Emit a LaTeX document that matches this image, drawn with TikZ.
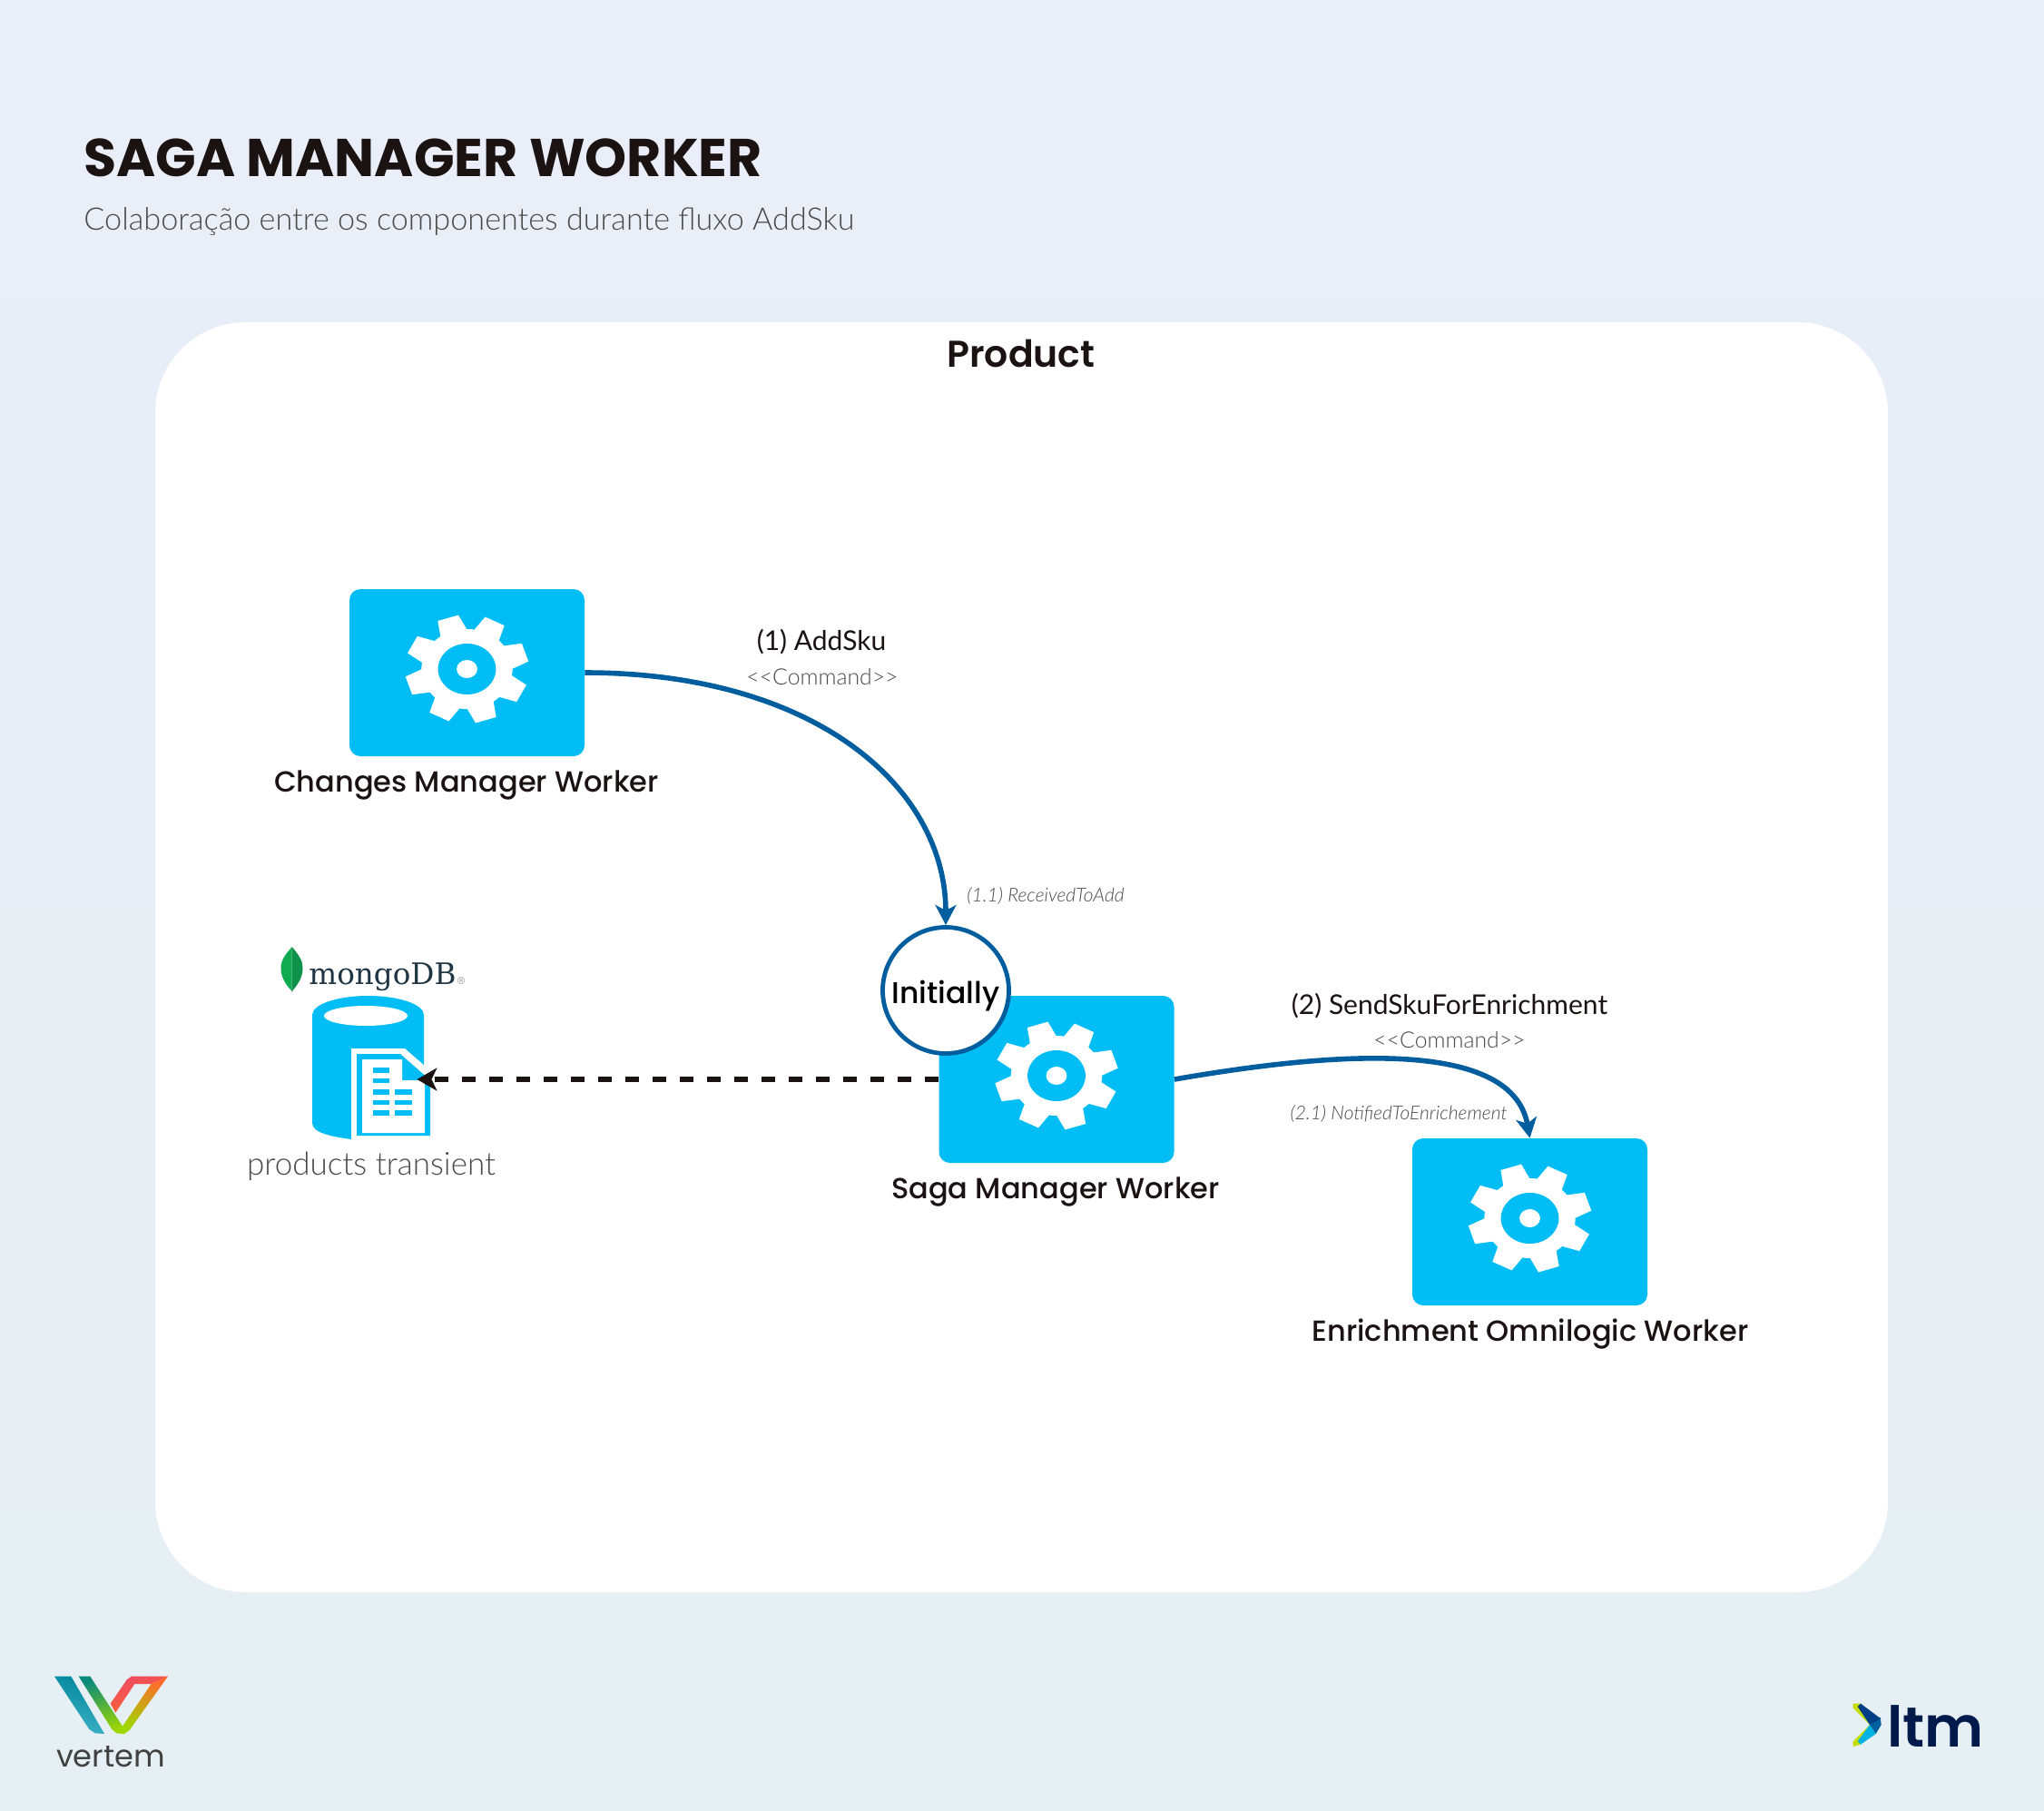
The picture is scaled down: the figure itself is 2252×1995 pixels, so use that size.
\documentclass[tikz,border=0pt]{standalone}
\usepackage{fontspec}
\usetikzlibrary{arrows.meta,shapes.geometric}
\setmainfont{Lato}
\newfontfamily\lightf{Lato Light}
\newfontfamily\lightit{Lato Light Italic}
\newfontfamily\regf{Poppins}
\newfontfamily\medf{Poppins Medium}
\newfontfamily\semif{Poppins SemiBold}
\newfontfamily\boldf{Poppins Bold}
\newfontfamily\slab{DejaVu Serif}
\newcommand\fs[1]{\fontsize{#1}{#1}\selectfont}
\definecolor{bgtop}{HTML}{E9EEF8}
\definecolor{bgbot}{HTML}{E6EFF3}
\definecolor{cyanbox}{HTML}{00BEF5}
\definecolor{flowblue}{HTML}{005E9E}
\definecolor{inkdark}{HTML}{1A1311}
\definecolor{greytxt}{HTML}{4A4A4A}
\definecolor{mongoink}{HTML}{1F3544}
\tikzset{
  x=0.5pt,y=-0.5pt,
  worker/.style={rectangle,rounded corners=6pt,fill=cyanbox,minimum width=129.5pt,minimum height=92pt,inner sep=0pt},
  wlabel/.style={font=\medf\fs{16},text=inkdark,inner sep=0pt},
  msg/.style={font=\fs{15},text=inkdark,inner sep=0pt},
  stereo/.style={font=\lightf\fs{12.4},text=greytxt,inner sep=0pt},
  note/.style={font=\lightit\fs{10.5},text=greytxt,inner sep=0pt},
  flow/.style={flowblue,line width=2.8pt,-{Stealth[length=11pt,width=11.5pt,inset=3pt]}},
  writeflow/.style={inkdark,line width=2.9pt,dash pattern=on 7.5pt off 7.5pt,-{Stealth[length=11pt,width=12.5pt,inset=3pt]}},
  cog/.pic={
    \begin{scope}[xscale=1.14]
    \foreach \a in {27,72,...,342}{
      \fill[white] ({\a-19}:42) -- ({\a-10}:60) -- ({\a+10}:60) -- ({\a+19}:42) -- cycle;
    }
    \fill[white] (0,0) circle[radius=44];
    \fill[cyanbox] (0,0) circle[radius=28];
    \fill[white] (0,0) circle[radius=10];
    \end{scope}
  },
}
\begin{document}
\begin{tikzpicture}
\useasboundingbox (0,0) rectangle (2252,1995);
\shade[top color=bgtop,bottom color=bgbot] (0,0) rectangle (2252,1995);
\fill[white,rounded corners=50pt] (171,355) rectangle (2080,1754);

\node[anchor=west,font=\boldf\fs{29.3},text=inkdark,inner sep=0pt] (title) at (92,174) {SAGA MANAGER WORKER};
\node[anchor=west,font=\lightf\fs{17.1},text=greytxt,inner sep=0pt] (subtitle) at (92,244) {Colaboração entre os componentes durante fluxo AddSku};
\node[font=\semif\fs{20.5},text=inkdark,inner sep=0pt] (panel) at (1125,390) {Product};

\node[worker] (changes) at (514.5,741) {};
\node[worker] (saga) at (1164,1189) {};
\node[worker] (enrich) at (1685.5,1346) {};
\pic at ([yshift=2pt]changes.center) {cog};
\pic at ([yshift=2pt]saga.center) {cog};
\pic at ([yshift=2pt]enrich.center) {cog};
\node[wlabel] (lchanges) at (514,865) {Changes Manager Worker};
\node[wlabel] (lsaga) at (1163,1313) {Saga Manager Worker};
\node[wlabel] (lenrich) at (1686,1470) {Enrichment Omnilogic Worker};

% database
\fill[cyanbox] (344,1118) arc[start angle=180,end angle=360,x radius=61.5,y radius=21] -- (467,1240) -- (387,1255)
  .. controls (365,1252) and (344,1248) .. (344,1237) -- cycle;
\fill[white] (403,1119) circle[x radius=46,y radius=11];
\fill[white] (387,1155) -- (446,1155) -- (477,1182) -- (477,1255) -- (387,1255) -- cycle;
\fill[cyanbox] (393,1161) -- (441,1161) -- (474,1190) -- (474,1251) -- (393,1251) -- cycle;
\fill[white] (399,1167) -- (443,1167) -- (443,1190) -- (468,1190) -- (468,1248) -- (399,1248) -- cycle;
\foreach \y/\h in {1176/6,1188/5,1200/6,1212/5,1223/6}{\fill[cyanbox] (411,\y) rectangle ++(18,\h);}
\foreach \y/\h in {1200/6,1212/5,1223/6}{\fill[cyanbox] (435,\y) rectangle ++(19,\h);}
\node[minimum width=57.5pt,minimum height=92pt,inner sep=0pt] (db) at (401.5,1189) {};
\node[font=\lightf\fs{17.5},text=greytxt,inner sep=0pt] (ldb) at (409,1285) {products transient};

% mongo logo
\definecolor{leafl}{HTML}{10AA50}
\definecolor{leafr}{HTML}{0E9149}
\fill[black!15] (320.5,1090) -- (323,1090) -- (322,1096) -- cycle;
\fill[leafl] (321.7,1043) .. controls (314,1052) and (309,1058) .. (309.5,1068) .. controls (310,1078) and (316,1086) .. (321.7,1092) -- cycle;
\fill[leafr] (321.7,1043) .. controls (329,1052) and (334,1058) .. (333.5,1068) .. controls (333,1078) and (327,1086) .. (321.7,1092) -- cycle;
\node[anchor=base west,font=\slab\fs{16.3},text=mongoink,inner sep=0pt] (mongo) at (340,1084) {mongoDB\raisebox{0pt}{\fs{5.5}\textcolor{black!40}{®}}};

% connectors
\draw[flow] (changes.east) .. controls +(256,0) and +(0,-150) .. (1042,1019) coordinate (inittop);
\draw[flow] (saga.east) .. controls (1450,1162) and (1665,1139) .. (enrich.north);
\draw[writeflow] (saga.west) -- (db.east);

\node[circle,draw=flowblue,line width=2.4pt,fill=white,minimum size=69.5pt,inner sep=0pt,font=\medf\fs{16.5},text=black] (init) at (1042,1091) {\raisebox{-7pt}[0pt][0pt]{Initially}};

\node[msg] (m1) at (905,707) {(1) AddSku};
\node[stereo] (s1) at (906,746) {<{}<Command>{}>};
\node[note] (n1) at (1152,987) {(1.1) ReceivedToAdd};
\node[msg] (m2) at (1597,1108) {(2) SendSkuForEnrichment};
\node[stereo] (s2) at (1597,1146) {<{}<Command>{}>};
\node[note] (n2) at (1541,1227) {(2.1) NotifiedToEnrichement};

% vertem logo
\definecolor{vteal}{HTML}{00859B}
\definecolor{vtealb}{HTML}{3FB4C8}
\definecolor{vgreen}{HTML}{9FD800}
\definecolor{vdark}{HTML}{0A8A7A}
\definecolor{vorange}{HTML}{FF6A2A}
\definecolor{vpink}{HTML}{EE4A62}
\begin{scope}[shift={(40,1820)},scale=0.3333]
\shade[top color=vteal,bottom color=vtealb,shading angle=-20] (60,80) -- (115,80) -- (225,270) -- (195,268) -- (175,255) -- cycle;
\shade[left color=vpink,right color=vorange,shading angle=20] (245,170) -- (300,90) -- (315,80) -- (435,80) -- (380,105) -- (325,105) -- (262,200) -- cycle;
\shade[top color=vorange,bottom color=vgreen,shading angle=-20] (380,105) -- (435,80) -- (310,255) -- (290,270) -- (285,245) -- cycle;
\shade[top color=vdark,bottom color=vgreen,shading angle=20] (140,80) -- (178,80) -- (285,245) -- (310,255) -- (290,270) -- (265,268) -- (250,255) -- cycle;
\end{scope}
\node[font=\regf\fs{16.8},text=black!75,inner sep=0pt] (vertem) at (122,1935) {vertem};

% ltm logo
\definecolor{ltmlime}{HTML}{C4DC00}
\definecolor{ltmcyan}{HTML}{00B3E3}
\definecolor{ltmmid}{HTML}{00609F}
\definecolor{ltmdark}{HTML}{003E85}
\definecolor{ltmink}{HTML}{001A4B}
\begin{scope}[shift={(2020,1850)},scale=0.3333]
\fill[ltmlime] (65,80) -- (90,80) -- (120,150) -- (90,215) -- (65,222) -- (65,205) -- (120,150) -- (65,95) -- cycle;
\fill[ltmcyan] (80,205) -- (120,150) -- (140,180) -- (90,215) -- cycle;
\fill[ltmmid] (120,150) -- (155,125) -- (158,150) -- (140,180) -- cycle;
\fill[ltmdark] (80,90) -- (90,80) -- (150,125) -- (155,130) -- (120,150) -- cycle;
\end{scope}
\node[anchor=base west,font=\semif\fs{31},text=ltmink,inner sep=0pt] (ltm) at (2079,1924) {ltm};
\end{tikzpicture}
\end{document}
